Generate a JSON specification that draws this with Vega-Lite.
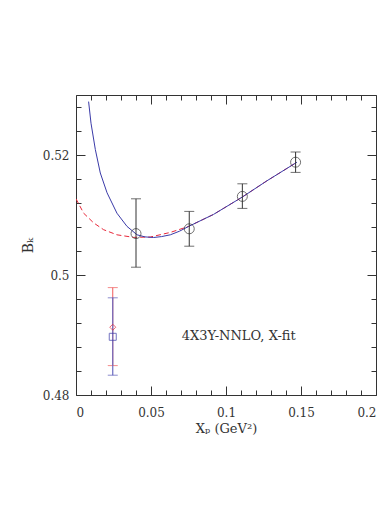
{
  "$schema": "https://vega.github.io/schema/vega-lite/v6.json",
  "width": 300,
  "height": 300,
  "autosize": {"type": "none"},
  "padding": {"left": 76, "top": 95, "right": 15, "bottom": 111},
  "background": "white",
  "config": {
    "view": {"stroke": "#333333", "strokeWidth": 1},
    "axis": {"labelFont": "DejaVu Serif", "titleFont": "DejaVu Serif", "labelColor": "#333333", "titleColor": "#333333", "tickColor": "#333333", "domain": false, "grid": false, "titleFontWeight": "normal"}
  },
  "datasets": {
    "blue": [
      {"x": 0.0084, "y": 0.5289}, {"x": 0.0100, "y": 0.5253}, {"x": 0.0129, "y": 0.5209},
      {"x": 0.0162, "y": 0.5170}, {"x": 0.0207, "y": 0.5137}, {"x": 0.0273, "y": 0.5103},
      {"x": 0.0340, "y": 0.5081}, {"x": 0.0407, "y": 0.5067}, {"x": 0.0460, "y": 0.50635},
      {"x": 0.0517, "y": 0.50625}, {"x": 0.0570, "y": 0.5064}, {"x": 0.0629, "y": 0.5067},
      {"x": 0.0690, "y": 0.5073}, {"x": 0.0751, "y": 0.5081}, {"x": 0.0917, "y": 0.5101},
      {"x": 0.1109, "y": 0.5130}, {"x": 0.1273, "y": 0.5157}, {"x": 0.1473, "y": 0.5188}
    ],
    "red": [
      {"x": 0.0, "y": 0.5127}, {"x": 0.0051, "y": 0.5103}, {"x": 0.0117, "y": 0.5087},
      {"x": 0.0184, "y": 0.50755}, {"x": 0.0273, "y": 0.5067}, {"x": 0.0384, "y": 0.50627},
      {"x": 0.0495, "y": 0.50633}, {"x": 0.0629, "y": 0.5071}, {"x": 0.0751, "y": 0.5081},
      {"x": 0.0917, "y": 0.5101}, {"x": 0.1109, "y": 0.5130}, {"x": 0.1273, "y": 0.5157},
      {"x": 0.1473, "y": 0.5188}
    ],
    "pts": [
      {"x": 0.0400, "y": 0.5069, "lo": 0.5013, "hi": 0.5127},
      {"x": 0.0755, "y": 0.5077, "lo": 0.5048, "hi": 0.5106},
      {"x": 0.1109, "y": 0.5131, "lo": 0.5111, "hi": 0.5152},
      {"x": 0.1464, "y": 0.5188, "lo": 0.5171, "hi": 0.5205}
    ],
    "redpt": [{"x": 0.0245, "y": 0.4913, "lo": 0.4849, "hi": 0.4979}],
    "bluept": [{"x": 0.0245, "y": 0.4897, "lo": 0.4833, "hi": 0.4962}],
    "label": [{"x": 0.0705, "y": 0.4898, "text": "4X3Y-NNLO, X-fit"}]
  },
  "resolve": {"axis": {"x": "independent", "y": "independent"}},
  "layer": [
    {
      "data": {"name": "red"},
      "mark": {"type": "line", "color": "#e8283a", "strokeWidth": 1, "strokeDash": [5, 3], "clip": true},
      "encoding": {
        "x": {"field": "x", "type": "quantitative", "scale": {"domain": [0, 0.2], "nice": false, "zero": false},
          "axis": {"orient": "bottom", "values": [0, 0.05, 0.1, 0.15, 0.2], "format": ".2~f", "tickSize": -9, "labelPadding": 21, "labelFontSize": 12, "title": "Xₚ (GeV²)", "titleFontSize": 13, "titleBaseline": "middle", "titleY": 33}},
        "y": {"field": "y", "type": "quantitative", "scale": {"domain": [0.48, 0.53], "nice": false, "zero": false},
          "axis": {"orient": "left", "values": [0.48, 0.5, 0.52], "format": ".2~f", "tickSize": -9, "labelPadding": 16, "labelFontSize": 12, "title": "Bₖ", "titleFontSize": 14, "titleBaseline": "middle", "titleX": -48, "titleY": 150}}
      }
    },
    {
      "data": {"name": "blue"},
      "mark": {"type": "line", "color": "#3a3aa8", "strokeWidth": 1, "clip": true},
      "encoding": {
        "x": {"field": "x", "type": "quantitative",
          "axis": {"orient": "bottom", "values": [0.01, 0.02, 0.03, 0.04, 0.06, 0.07, 0.08, 0.09, 0.11, 0.12, 0.13, 0.14, 0.16, 0.17, 0.18, 0.19], "tickSize": -5, "labels": false, "title": null}},
        "y": {"field": "y", "type": "quantitative",
          "axis": {"orient": "left", "values": [0.484, 0.488, 0.492, 0.496, 0.504, 0.508, 0.512, 0.516, 0.524, 0.528], "tickSize": -5, "labels": false, "title": null}}
      }
    },
    {
      "data": {"name": "pts"},
      "mark": {"type": "rule", "color": "#333333", "strokeWidth": 1},
      "encoding": {
        "x": {"field": "x", "type": "quantitative",
          "axis": {"orient": "top", "values": [0, 0.05, 0.1, 0.15, 0.2], "tickSize": -9, "labels": false, "title": null}},
        "y": {"field": "lo", "type": "quantitative",
          "axis": {"orient": "right", "values": [0.48, 0.5, 0.52], "tickSize": -9, "labels": false, "title": null}},
        "y2": {"field": "hi"}
      }
    },
    {
      "data": {"name": "pts"},
      "mark": {"type": "tick", "orient": "horizontal", "color": "#333333", "size": 10, "thickness": 1},
      "encoding": {
        "x": {"field": "x", "type": "quantitative",
          "axis": {"orient": "top", "values": [0.01, 0.02, 0.03, 0.04, 0.06, 0.07, 0.08, 0.09, 0.11, 0.12, 0.13, 0.14, 0.16, 0.17, 0.18, 0.19], "tickSize": -5, "labels": false, "title": null}},
        "y": {"field": "lo", "type": "quantitative",
          "axis": {"orient": "right", "values": [0.484, 0.488, 0.492, 0.496, 0.504, 0.508, 0.512, 0.516, 0.524, 0.528], "tickSize": -5, "labels": false, "title": null}}
      }
    },
    {
      "data": {"name": "pts"},
      "mark": {"type": "tick", "orient": "horizontal", "color": "#333333", "size": 10, "thickness": 1},
      "encoding": {
        "x": {"field": "x", "type": "quantitative", "axis": null},
        "y": {"field": "hi", "type": "quantitative", "axis": null}
      }
    },
    {
      "data": {"name": "pts"},
      "mark": {"type": "point", "shape": "circle", "filled": false, "color": "#333333", "size": 100, "strokeWidth": 1},
      "encoding": {
        "x": {"field": "x", "type": "quantitative", "axis": null},
        "y": {"field": "y", "type": "quantitative", "axis": null}
      }
    },
    {
      "data": {"name": "redpt"},
      "mark": {"type": "rule", "color": "#f05a5a", "strokeWidth": 1},
      "encoding": {
        "x": {"field": "x", "type": "quantitative", "axis": null},
        "y": {"field": "lo", "type": "quantitative", "axis": null},
        "y2": {"field": "hi"}
      }
    },
    {
      "data": {"name": "redpt"},
      "mark": {"type": "tick", "orient": "horizontal", "color": "#f05a5a", "size": 10, "thickness": 1},
      "encoding": {
        "x": {"field": "x", "type": "quantitative", "axis": null},
        "y": {"field": "lo", "type": "quantitative", "axis": null}
      }
    },
    {
      "data": {"name": "redpt"},
      "mark": {"type": "tick", "orient": "horizontal", "color": "#f05a5a", "size": 10, "thickness": 1},
      "encoding": {
        "x": {"field": "x", "type": "quantitative", "axis": null},
        "y": {"field": "hi", "type": "quantitative", "axis": null}
      }
    },
    {
      "data": {"name": "bluept"},
      "mark": {"type": "rule", "color": "#6a6ac0", "strokeWidth": 1.2},
      "encoding": {
        "x": {"field": "x", "type": "quantitative", "axis": null},
        "y": {"field": "lo", "type": "quantitative", "axis": null},
        "y2": {"field": "hi"}
      }
    },
    {
      "data": {"name": "bluept"},
      "mark": {"type": "tick", "orient": "horizontal", "color": "#5a5ab8", "size": 10, "thickness": 1},
      "encoding": {
        "x": {"field": "x", "type": "quantitative", "axis": null},
        "y": {"field": "lo", "type": "quantitative", "axis": null}
      }
    },
    {
      "data": {"name": "bluept"},
      "mark": {"type": "tick", "orient": "horizontal", "color": "#5a5ab8", "size": 10, "thickness": 1},
      "encoding": {
        "x": {"field": "x", "type": "quantitative", "axis": null},
        "y": {"field": "hi", "type": "quantitative", "axis": null}
      }
    },
    {
      "data": {"name": "redpt"},
      "mark": {"type": "point", "shape": "diamond", "filled": false, "color": "#e8283a", "size": 36, "strokeWidth": 1},
      "encoding": {
        "x": {"field": "x", "type": "quantitative", "axis": null},
        "y": {"field": "y", "type": "quantitative", "axis": null}
      }
    },
    {
      "data": {"name": "bluept"},
      "mark": {"type": "point", "shape": "square", "filled": false, "color": "#3a3aa8", "size": 49, "strokeWidth": 1},
      "encoding": {
        "x": {"field": "x", "type": "quantitative", "axis": null},
        "y": {"field": "y", "type": "quantitative", "axis": null}
      }
    },
    {
      "data": {"name": "label"},
      "mark": {"type": "text", "align": "left", "baseline": "middle", "font": "DejaVu Serif", "fontSize": 13, "color": "#333333"},
      "encoding": {
        "x": {"field": "x", "type": "quantitative", "axis": null},
        "y": {"field": "y", "type": "quantitative", "axis": null},
        "text": {"field": "text"}
      }
    }
  ]
}
